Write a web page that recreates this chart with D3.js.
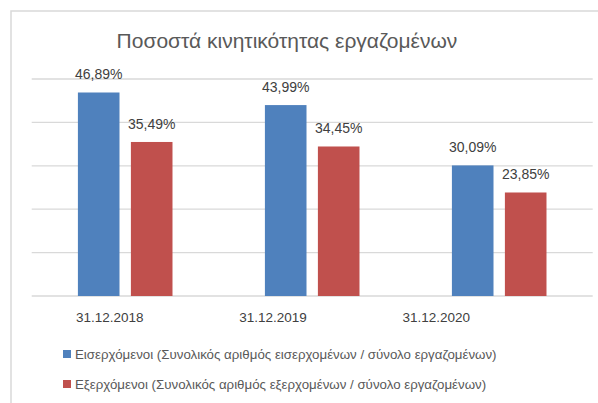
<!DOCTYPE html>
<html>
<head>
<meta charset="utf-8">
<script src="https://cdn.jsdelivr.net/npm/d3@7"></script>
<style>
  body { margin: 0; background: #fff; }
  text { font-family: "Liberation Sans", Arial, sans-serif; fill: #595959; }
</style>
</head>
<body>
<script>
// chart data
const categories = ["31.12.2018", "31.12.2019", "31.12.2020"];
const seriesNames = [
  "Εισερχόμενοι (Συνολικός αριθμός εισερχομένων / σύνολο εργαζομένων)",
  "Εξερχόμενοι (Συνολικός αριθμός εξερχομένων / σύνολο εργαζομένων)"
];
const incoming = [46.89, 43.99, 30.09];
const outgoing = [35.49, 34.45, 23.85];
const yTicks = [0, 10, 20, 30, 40, 50];
const colors = ["#4F81BD", "#C0504D"];

let width = 598, height = 403;
let svg = d3.select("body").append("svg")
  .attr("width", width).attr("height", height);

// chart frame
svg.append("rect").attr("x", 11).attr("y", 11)
  .attr("width", 600).attr("height", 420)
  .attr("fill", "none").attr("stroke", "#D9D9D9").attr("stroke-width", 1.5);

// title
svg.append("text")
  .attr("x", 287).attr("y", 48)
  .attr("text-anchor", "middle")
  .attr("font-size", "21px")
  .text("Ποσοστά κινητικότητας εργαζομένων");

// scales
let x = d3.scaleBand().domain(categories).range([31.7, 592.7]);
let x1 = d3.scaleBand().domain([0, 1]).range([0, x.bandwidth()])
  .paddingInner(0.215).paddingOuter(0.872);
let y = d3.scaleLinear().domain([0, 50]).range([296, 79]);
// tick labels sit slightly left of the bar groups in the original
let xLabel = d3.scaleBand().domain(categories).range([28, 518]);

// gridlines
svg.append("g").selectAll("line").data(yTicks).enter().append("line")
  .attr("x1", 31.7).attr("x2", 592.7)
  .attr("y1", d => y(d)).attr("y2", d => y(d))
  .attr("stroke", "#D9D9D9").attr("stroke-width", 1.3);

// bars
let rows = categories.map((c, i) => ({cat: c, vals: [incoming[i], outgoing[i]]}));
let groups = svg.append("g").selectAll("g").data(rows).enter().append("g")
  .attr("transform", d => "translate(" + x(d.cat) + ",0)");

groups.selectAll("rect").data(d => d.vals.map((v, s) => ({v: v, s: s})))
  .enter().append("rect")
  .attr("x", d => x1(d.s))
  .attr("y", d => y(d.v))
  .attr("width", x1.bandwidth())
  .attr("height", d => y(0) - y(d.v))
  .attr("fill", d => colors[d.s]);

// value labels
groups.selectAll("text").data(d => d.vals.map((v, s) => ({v: v, s: s})))
  .enter().append("text")
  .attr("x", d => x1(d.s) + x1.bandwidth() / 2)
  .attr("y", d => y(d.v) - 13)
  .attr("text-anchor", "middle")
  .attr("font-size", "14px")
  .style("fill", "#404040")
  .text(d => d.v.toFixed(2).replace(".", ",") + "%");

// category axis labels
svg.append("g").selectAll("text").data(categories).enter().append("text")
  .attr("x", d => xLabel(d) + xLabel.bandwidth() / 2)
  .attr("y", 322)
  .attr("text-anchor", "middle")
  .attr("font-size", "13.5px")
  .style("fill", "#404040")
  .text(d => d);

// legend
let legend = svg.append("g").selectAll("g").data(seriesNames).enter().append("g")
  .attr("transform", (d, i) => "translate(63," + (350 + i * 30) + ")");
legend.append("rect").attr("width", 8).attr("height", 8)
  .attr("fill", (d, i) => colors[i]);
legend.append("text").attr("x", 12).attr("y", 8.5)
  .attr("font-size", "13.3px")
  .text(d => d);
</script>
</body>
</html>
